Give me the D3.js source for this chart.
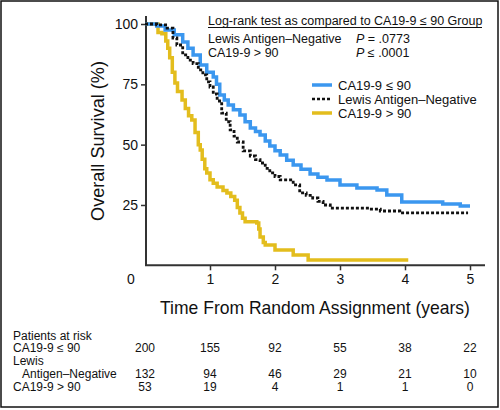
<!DOCTYPE html>
<html>
<head>
<meta charset="utf-8">
<script src="https://cdn.jsdelivr.net/npm/d3@7"></script>
<style>
  body { margin: 0; background: #fff; }
  svg { display: block; }
  text { font-family: "Liberation Sans", Arial, "Helvetica", sans-serif; fill: #111; }
  .title { font-family: "Liberation Sans Narrow", "Arial Narrow", "Liberation Sans", Arial, sans-serif; font-stretch: condensed; }
</style>
</head>
<body>
<svg id="chart" width="500" height="410"></svg>
<script>
// ---------- DATA ----------
const seriesNames = ["CA19-9 \u2264 90", "Lewis Antigen\u2013Negative", "CA19-9 > 90"];

const blueTime = [0, 0.18, 0.31, 0.45, 0.58, 0.66, 0.74, 0.85, 0.95, 1.05, 1.1, 1.15, 1.22, 1.28, 1.36, 1.46, 1.54, 1.62, 1.7, 1.77, 1.85, 1.92, 2.0, 2.08, 2.18, 2.28, 2.4, 2.54, 2.66, 2.8, 3.0, 3.26, 3.57, 3.72, 3.95, 4.58, 4.85, 5.0];
const blueSurv = [100, 99.2, 97.5, 95.5, 92.5, 90, 87.2, 83, 80, 78, 75, 70.6, 68.5, 66.4, 64.5, 62.3, 59.5, 56.9, 55.5, 54, 51.5, 49.4, 47.5, 45.7, 43.5, 41.6, 39.8, 37.8, 36.5, 35.3, 33.3, 32, 31.2, 29.1, 26.2, 25.4, 24.6, 24.6];

const blackTime = [0, 0.18, 0.34, 0.43, 0.49, 0.58, 0.66, 0.74, 0.82, 0.89, 0.95, 1.0, 1.05, 1.11, 1.18, 1.25, 1.31, 1.37, 1.42, 1.51, 1.62, 1.7, 1.77, 1.85, 1.92, 2.0, 2.08, 2.28, 2.38, 2.48, 2.58, 2.66, 2.74, 2.85, 3.46, 3.62, 3.92, 4.97];
const blackSurv = [100, 99.6, 98.3, 94.2, 91.3, 87.2, 85, 83.6, 81, 78.9, 76, 73.9, 71, 68.1, 63.1, 59.5, 56.1, 53.5, 51.1, 47.4, 45.3, 43.8, 42.4, 40.2, 38.3, 36.8, 35.4, 33.3, 30, 29, 27.9, 26.5, 25, 23.7, 23.3, 22.5, 21.7, 21.7];

const yellowTime = [0, 0.2, 0.26, 0.32, 0.35, 0.38, 0.42, 0.46, 0.5, 0.57, 0.62, 0.67, 0.72, 0.77, 0.82, 0.85, 0.88, 0.92, 0.95, 1.0, 1.05, 1.11, 1.2, 1.26, 1.32, 1.38, 1.42, 1.46, 1.5, 1.54, 1.72, 1.75, 1.77, 1.82, 1.85, 2.0, 2.28, 2.51, 4.05];
const yellowSurv = [100, 96.5, 96.0, 93, 90, 86, 80, 75.5, 72, 68.5, 65, 62, 60.2, 55, 50, 47.8, 44, 40, 38.2, 35.5, 34, 32.4, 31, 30, 28.5, 27, 24, 21.7, 19.5, 18, 17.5, 15, 11.7, 9.5, 8.4, 6.3, 4.3, 2.2, 2.2];

const yTicks = [25, 50, 75, 100];
const xTicks = [1, 2, 3, 4, 5];
const riskTimes = [0, 1, 2, 3, 4, 5];
const riskBlue = [200, 155, 92, 55, 38, 22];
const riskBlack = [132, 94, 46, 29, 21, 10];
const riskYellow = [53, 19, 4, 1, 1, 0];
const logRankTitle = "Log-rank test as compared to CA19-9 \u2264 90 Group";
const pLabels = ["Lewis Antigen\u2013Negative", "CA19-9 > 90"];
const pValues = [".0773", ".0001"];
const pOps = ["=", "\u2264"];

// ---------- CHART ----------
const svg = d3.select("#chart");
const x = d3.scaleLinear().domain([0, 5]).range([145, 470]);
const y = d3.scaleLinear().domain([0, 100]).range([265.3, 24]);

svg.append("rect").attr("x", 1).attr("y", 1).attr("width", 497).attr("height", 406)
  .attr("fill", "none").attr("stroke", "#111").attr("stroke-width", 1.5);

// axes
const yAxis = d3.axisLeft(y).tickValues(yTicks).tickSize(5).tickPadding(3);
const gy = svg.append("g").attr("transform", "translate(146,0)").call(yAxis);
gy.select(".domain").remove();
gy.selectAll("line").attr("stroke", "#333").attr("stroke-width", 1.5);
gy.selectAll("text").attr("font-size", 14).style("font-family", "Liberation Sans, Arial, sans-serif").attr("fill", "#111");

const xAxis = d3.axisBottom(x).tickValues(xTicks).tickFormat(d3.format("d")).tickSize(5).tickPadding(4);
const gx = svg.append("g").attr("transform", "translate(0,265.3)").call(xAxis);
gx.select(".domain").remove();
gx.selectAll("line").attr("stroke", "#333").attr("stroke-width", 1.5);
gx.selectAll("text").attr("font-size", 14).style("font-family", "Liberation Sans, Arial, sans-serif").attr("fill", "#111");

svg.append("text").attr("x", 131).attr("y", 284).attr("text-anchor", "middle")
  .attr("font-size", 14).text("0");

svg.append("line").attr("x1", 146).attr("x2", 146).attr("y1", 16).attr("y2", 266)
  .attr("stroke", "#333").attr("stroke-width", 2);
svg.append("line").attr("x1", 145).attr("x2", 485).attr("y1", 265.3).attr("y2", 265.3)
  .attr("stroke", "#333").attr("stroke-width", 2);

// axis titles (font size fitted to the reference's text width)
function fitTitle(sel, target) {
  sel.attr("font-size", 20);
  const w = sel.node().getComputedTextLength();
  sel.attr("font-size", Math.min(22, 20 * target / w));
}
const yt = svg.append("text").attr("class", "title").attr("transform", "translate(104,141) rotate(-90)")
  .attr("text-anchor", "middle").text("Overall Survival (%)");
fitTitle(yt, 160);
const xt = svg.append("text").attr("class", "title").attr("x", 315).attr("y", 314)
  .attr("text-anchor", "middle").text("Time From Random Assignment (years)");
fitTitle(xt, 310);

// curves
const line = d3.line().x(d => x(d[0])).y(d => y(d[1])).curve(d3.curveStepAfter);
const zip = (a, b) => a.map((t, i) => [t, b[i]]);
const blue = "#3b97ef", yellow = "#e3bd1d";

svg.append("path").datum(zip(yellowTime, yellowSurv)).attr("d", line)
  .attr("fill", "none").attr("stroke", yellow).attr("stroke-width", 3.5);
svg.append("path").datum(zip(blueTime, blueSurv)).attr("d", line)
  .attr("fill", "none").attr("stroke", blue).attr("stroke-width", 3.5);
svg.append("path").datum(zip(blackTime, blackSurv)).attr("d", line)
  .attr("fill", "none").attr("stroke", "#111").attr("stroke-width", 2.8)
  .attr("stroke-dasharray", "3,2");

// log-rank annotation
svg.append("text").attr("x", 208).attr("y", 25).attr("font-size", 12.5).text(logRankTitle);
svg.append("line").attr("x1", 208).attr("x2", 482).attr("y1", 27.5).attr("y2", 27.5)
  .attr("stroke", "#111").attr("stroke-width", 1);
pLabels.forEach((lab, i) => {
  svg.append("text").attr("x", 208).attr("y", 43 + i * 14).attr("font-size", 12.5).text(lab);
  const t = svg.append("text").attr("x", 356).attr("y", 43 + i * 14).attr("font-size", 12.5);
  t.append("tspan").attr("font-style", "italic").text("P");
  t.append("tspan").text(" " + pOps[i] + " " + pValues[i]);
});

// legend
const legColors = [blue, "#111", yellow];
seriesNames.forEach((n, i) => {
  const yy = 85 + i * 14;
  const l = svg.append("line").attr("x1", 312).attr("x2", 332).attr("y1", yy).attr("y2", yy)
    .attr("stroke", legColors[i]).attr("stroke-width", i === 1 ? 2.5 : 3.5);
  if (i === 1) l.attr("stroke-dasharray", "3,2");
  svg.append("text").attr("x", 338).attr("y", yy + 4.5).attr("font-size", 13).text(n);
});

// risk table
const fs = 12;
const rowY = [352, 377.5, 390.5];
svg.append("text").attr("x", 13).attr("y", 339.5).attr("font-size", fs).text("Patients at risk");
svg.append("text").attr("x", 13).attr("y", rowY[0]).attr("font-size", fs).text("CA19-9 \u2264 90");
svg.append("text").attr("x", 13).attr("y", 364.5).attr("font-size", fs).text("Lewis");
svg.append("text").attr("x", 22).attr("y", rowY[1]).attr("font-size", fs).text("Antigen\u2013Negative");
svg.append("text").attr("x", 13).attr("y", rowY[2]).attr("font-size", fs).text("CA19-9 > 90");
[riskBlue, riskBlack, riskYellow].forEach((row, r) => {
  svg.selectAll(null).data(row).enter().append("text")
    .attr("x", (d, i) => x(riskTimes[i])).attr("y", rowY[r])
    .attr("text-anchor", "middle").attr("font-size", fs).text(d => d);
});
</script>
</body>
</html>
